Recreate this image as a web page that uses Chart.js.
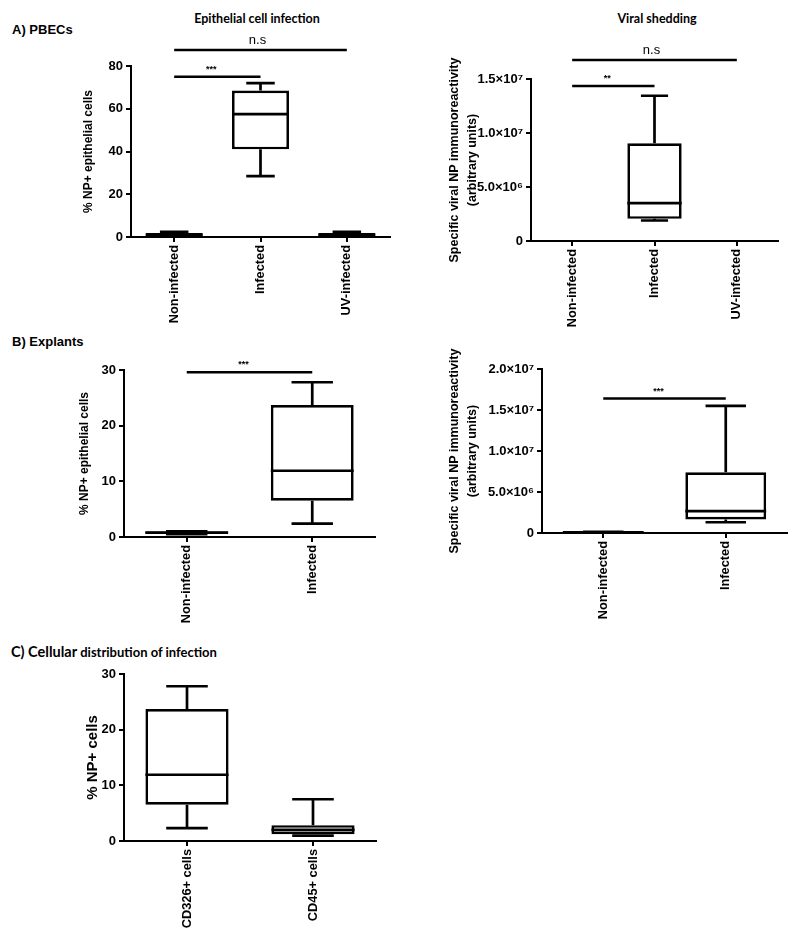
<!DOCTYPE html>
<html>
<head>
<meta charset="utf-8">
<script src="https://cdn.jsdelivr.net/npm/chart.js@4.4.1/dist/chart.umd.min.js"></script>
<style>
  body { margin: 0; background: #fff; width: 800px; height: 932px; position: relative; overflow: hidden;
         font-family: "Liberation Sans", Arial, sans-serif; color: #000; }
  canvas { position: absolute; }
  .hdr { position: absolute; font-weight: bold; font-size: 13px; line-height: 13px; white-space: nowrap; }
  .ttl { position: absolute; font-family: Lato, sans-serif; font-weight: bold; font-size: 12.5px; line-height: 13px;
         transform: translateX(-50%); white-space: nowrap; }
  .cal { font-family: Lato, sans-serif; }
</style>
</head>
<body>
<div class="hdr" style="left:12px;top:23px">A) PBECs</div>
<div class="ttl" style="left:257px;top:12px">Epithelial cell infection</div>
<div class="ttl" style="left:657px;top:12px">Viral shedding</div>
<div class="hdr" style="left:12px;top:335px">B) Explants</div>
<div class="hdr cal" style="left:11px;top:645px"><span style="font-size:14.5px">C) Cellular</span> <span style="font-size:13px">distribution of infection</span></div>

<canvas id="pbecPct" width="323" height="300" style="left:77px;top:30px"></canvas>
<canvas id="pbecNp" width="359" height="300" style="left:441px;top:30px"></canvas>
<canvas id="explPct" width="327" height="280" style="left:73px;top:345px"></canvas>
<canvas id="explNp" width="359" height="280" style="left:441px;top:345px"></canvas>
<canvas id="cellPct" width="320" height="280" style="left:80px;top:650px"></canvas>

<script>
"use strict";

// A) PBECs - % NP+ epithelial cells
const pbecLabels = ["Non-infected", "Infected", "UV-infected"];
const pbecPctMin = [0.2, 28.5, 0.2];
const pbecPctQ1 = [0.4, 41, 0.4];
const pbecPctMed = [1.0, 57.5, 1.0];
const pbecPctQ3 = [1.9, 68.5, 1.9];
const pbecPctMax = [2.4, 72, 2.4];
const pbecPctTicks = [0, 20, 40, 60, 80];
const pbecPctSigFrom = [0, 0];
const pbecPctSigTo = [1, 2];
const pbecPctSigAt = [75, 87.5];
const pbecPctSigText = ["***", "n.s"];

// A) PBECs - viral NP immunoreactivity (non-infected / UV not visible above the axis)
const pbecNpMin = [null, 1.9e6, null];
const pbecNpQ1 = [null, 2.05e6, null];
const pbecNpMed = [null, 3.5e6, null];
const pbecNpQ3 = [null, 9.05e6, null];
const pbecNpMax = [null, 1.345e7, null];
const pbecNpTicks = [0, 5e6, 1e7, 1.5e7];
const pbecNpSigFrom = [0, 0];
const pbecNpSigTo = [1, 2];
const pbecNpSigAt = [1.435e7, 1.675e7];
const pbecNpSigText = ["**", "n.s"];

// B) Explants
const explLabels = ["Non-infected", "Infected"];
const explPctMin = [0.5, 2.4];
const explPctQ1 = [0.6, 6.5];
const explPctMed = [0.8, 11.9];
const explPctQ3 = [1.0, 23.7];
const explPctMax = [1.0, 27.8];
const explPctTicks = [0, 10, 20, 30];
const explPctSigAt = [29.6];

const explNpMin = [3e4, 1.31e6];
const explNpQ1 = [5e4, 1.64e6];
const explNpMed = [8e4, 2.66e6];
const explNpQ3 = [1.1e5, 7.4e6];
const explNpMax = [1.5e5, 1.55e7];
const explNpTicks = [0, 5e6, 1e7, 1.5e7, 2e7];
const explNpSigAt = [1.64e7];

// C) Cellular distribution of infection
const cellLabels = ["CD326+ cells", "CD45+ cells"];
const cellPctMin = [2.3, 0.95];
const cellPctQ1 = [6.5, 1.2];
const cellPctMed = [11.9, 2.0];
const cellPctQ3 = [23.7, 2.85];
const cellPctMax = [27.8, 7.5];
const cellPctTicks = [0, 10, 20, 30];

const FONT = "'Liberation Sans', Arial, sans-serif";
const SUP = { "0": "⁰", "1": "¹", "2": "²", "3": "³", "4": "⁴", "5": "⁵", "6": "⁶", "7": "⁷", "8": "⁸", "9": "⁹" };

function sciLabel(v) {
  if (v === 0) return "0";
  const e = Math.floor(Math.log10(v) + 1e-9);
  const m = v / Math.pow(10, e);
  return m.toFixed(1) + "×10" + String(e).split("").map(c => SUP[c]).join("");
}

// whiskers + median on top of the floating bars
const boxWhisker = {
  id: "boxWhisker",
  afterDatasetsDraw(chart) {
    const ds = chart.data.datasets[0];
    const meta = chart.getDatasetMeta(0);
    const y = chart.scales.y;
    const ctx = chart.ctx;
    ctx.save();
    ctx.strokeStyle = "#000";
    ctx.lineWidth = 2.7;
    meta.data.forEach((bar, i) => {
      if (ds.data[i] == null) return;
      const hw = bar.width / 2;
      const yMed = y.getPixelForValue(ds.med[i]);
      const yQ1 = y.getPixelForValue(ds.data[i][0]);
      const yQ3 = y.getPixelForValue(ds.data[i][1]);
      const yMin = y.getPixelForValue(ds.min[i]);
      const yMax = y.getPixelForValue(ds.max[i]);
      ctx.beginPath();
      ctx.moveTo(bar.x - hw, yMed); ctx.lineTo(bar.x + hw, yMed);
      ctx.moveTo(bar.x, yQ3); ctx.lineTo(bar.x, yMax);
      ctx.moveTo(bar.x - hw / 2, yMax); ctx.lineTo(bar.x + hw / 2, yMax);
      ctx.moveTo(bar.x, yQ1); ctx.lineTo(bar.x, yMin);
      ctx.moveTo(bar.x - hw / 2, yMin); ctx.lineTo(bar.x + hw / 2, yMin);
      ctx.stroke();
    });
    ctx.restore();
  }
};

// significance bars
const sigBars = {
  id: "sigBars",
  afterDraw(chart, args, opts) {
    if (!opts.at) return;
    const x = chart.scales.x, y = chart.scales.y, ctx = chart.ctx;
    ctx.save();
    opts.at.forEach((v, i) => {
      const x1 = x.getPixelForValue(opts.from[i]);
      const x2 = x.getPixelForValue(opts.to[i]);
      const py = y.getPixelForValue(v);
      ctx.strokeStyle = "#000";
      ctx.lineWidth = 2.5;
      ctx.beginPath();
      ctx.moveTo(x1, py); ctx.lineTo(x2, py);
      ctx.stroke();
      const t = opts.text[i];
      ctx.fillStyle = "#000";
      ctx.textAlign = "center";
      ctx.textBaseline = "bottom";
      ctx.font = t === "n.s" ? "13px " + FONT : "bold 9px " + FONT;
      ctx.fillText(t, (x1 + x2) / 2 - (t === "n.s" ? 3 : 6), py - 3);
    });
    ctx.restore();
  }
};

function boxChart(id, o) {
  const data = {
    labels: o.labels,
    datasets: [{
      data: o.q1.map((v, i) => (v == null ? null : [v, o.q3[i]])),
      med: o.med, min: o.min, max: o.max,
      backgroundColor: "#fff",
      borderColor: "#000",
      borderWidth: 2.7,
      borderSkipped: false,
      barPercentage: 0.66,
      categoryPercentage: 1
    }]
  };
  const config = {
    type: "bar",
    data,
    plugins: [boxWhisker, sigBars],
    options: {
      responsive: false,
      animation: false,
      devicePixelRatio: 1,
      layout: { padding: { top: o.padTop, right: o.padRight, left: 0, bottom: 0 } },
      plugins: {
        legend: { display: false },
        tooltip: { enabled: false },
        sigBars: o.sig || {}
      },
      scales: {
        x: {
          offset: true,
          grid: { display: true, drawOnChartArea: false, drawTicks: true, tickLength: 5, offset: false, color: "#000", lineWidth: 2 },
          border: { display: true, color: "#000", width: 2 },
          ticks: { color: "#000", font: { family: FONT, size: 12.8, weight: "bold" }, minRotation: 90, maxRotation: 90, autoSkip: false, padding: 3 },
          afterFit(s) { s.height = o.xH; }
        },
        y: {
          min: 0,
          max: o.ticks[o.ticks.length - 1],
          afterBuildTicks(s) { s.ticks = o.ticks.map(v => ({ value: v })); },
          grid: { display: true, drawOnChartArea: false, drawTicks: true, tickLength: 5, color: "#000", lineWidth: 2 },
          border: { display: true, color: "#000", width: 2 },
          ticks: { color: "#000", font: { family: FONT, size: 13, weight: "bold" }, padding: 3, callback: o.tickFmt || (v => v) },
          title: { display: true, text: o.yTitle, color: "#000", font: o.titleFont, padding: { top: 4, bottom: 0 } },
          afterFit(s) { s.width = o.yW; }
        }
      }
    }
  };
  return new Chart(document.getElementById(id), config);
}

const pctTitleFont = { family: FONT, size: 12, weight: "bold", lineHeight: 1.2 };
const npTitleFont = { family: FONT, size: 12.5, weight: "bold", lineHeight: 1.45 };
const npTitle = ["Specific viral NP immunoreactivity", "(arbitrary units)"];

boxChart("pbecPct", {
  labels: pbecLabels, min: pbecPctMin, q1: pbecPctQ1, med: pbecPctMed, q3: pbecPctQ3, max: pbecPctMax,
  ticks: pbecPctTicks, yTitle: "% NP+ epithelial cells", titleFont: pctTitleFont,
  padTop: 36, padRight: 10, yW: 54, xH: 93,
  sig: { from: pbecPctSigFrom, to: pbecPctSigTo, at: pbecPctSigAt, text: pbecPctSigText }
});

boxChart("pbecNp", {
  labels: pbecLabels, min: pbecNpMin, q1: pbecNpQ1, med: pbecNpMed, q3: pbecNpQ3, max: pbecNpMax,
  ticks: pbecNpTicks, tickFmt: sciLabel, yTitle: npTitle, titleFont: npTitleFont,
  padTop: 49, padRight: 22, yW: 90, xH: 89,
  sig: { from: pbecNpSigFrom, to: pbecNpSigTo, at: pbecNpSigAt, text: pbecNpSigText }
});

boxChart("explPct", {
  labels: explLabels, min: explPctMin, q1: explPctQ1, med: explPctMed, q3: explPctQ3, max: explPctMax,
  ticks: explPctTicks, yTitle: "% NP+ epithelial cells", titleFont: pctTitleFont,
  padTop: 25, padRight: 25, yW: 51, xH: 88,
  sig: { from: [0], to: [1], at: explPctSigAt, text: ["***"] }
});

boxChart("explNp", {
  labels: explLabels, min: explNpMin, q1: explNpQ1, med: explNpMed, q3: explNpQ3, max: explNpMax,
  ticks: explNpTicks, tickFmt: sciLabel, yTitle: npTitle, titleFont: npTitleFont,
  padTop: 24, padRight: 13, yW: 101, xH: 92,
  sig: { from: [0], to: [1], at: explNpSigAt, text: ["***"] }
});

boxChart("cellPct", {
  labels: cellLabels, min: cellPctMin, q1: cellPctQ1, med: cellPctMed, q3: cellPctQ3, max: cellPctMax,
  ticks: cellPctTicks, yTitle: "% NP+ cells", titleFont: { family: FONT, size: 15, weight: "bold", lineHeight: 1.2 },
  padTop: 24, padRight: 24, yW: 44, xH: 89
});
</script>
</body>
</html>
